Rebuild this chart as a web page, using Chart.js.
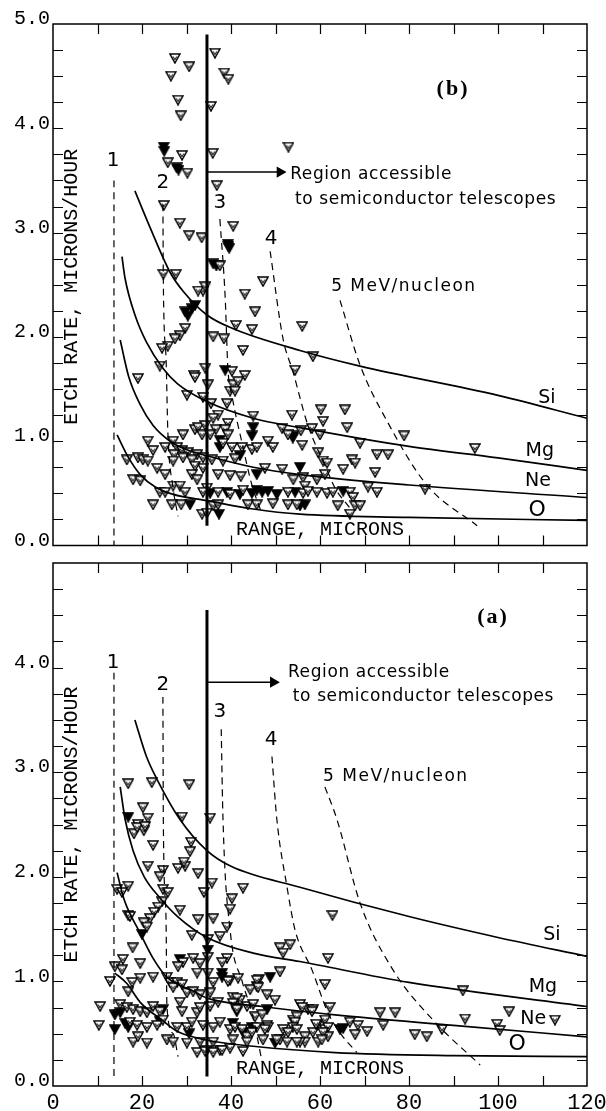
<!DOCTYPE html>
<html>
<head>
<meta charset="utf-8">
<script src="https://cdn.jsdelivr.net/npm/chart.js@4.4.1/dist/chart.umd.min.js"></script>
<style>
html, body { margin: 0; padding: 0; background: #fff; }
#wrap { position: relative; width: 606px; height: 1111px; }
canvas { position: absolute; left: 0; }
#chartB { top: 0; }
#chartA { top: 552px; }
</style>
</head>
<body>
<div id="wrap">
  <canvas id="chartB" width="606" height="552"></canvas>
  <canvas id="chartA" width="606" height="559"></canvas>
</div>
<script>
// Sumbu
const xTickValues = [0, 20, 40, 60, 80, 100, 120];
const yTickValues = [0, 1, 2, 3, 4, 5];

// ---- Panel (b), atas: [range, etch rate] ----
const bOpen = [
  [27.4,4.67],[30.6,4.59],[26.5,4.50],[36.4,4.72],[38.5,4.53],[39.4,4.47],[28.1,4.27],[28.7,4.12],[35.5,4.21],
  [29.0,3.74],[35.9,3.76],[52.9,3.82],[25.8,3.67],[30.2,3.57],[36.8,3.45],[24.9,3.26],[28.5,3.09],[40.5,3.06],
  [30.6,2.97],[33.4,2.95],[37.5,2.68],[24.8,2.60],[27.6,2.60],[47.2,2.53],[43.1,2.41],[33.7,2.44],[32.6,2.44],
  [34.2,2.48],[45.4,2.24],[56.0,2.10],[41.1,2.11],[44.7,2.07],[29.7,2.08],[28.5,2.01],[27.4,1.98],[36.0,2.00],
  [38.4,1.98],[25.8,1.91],[24.5,1.89],[42.7,1.87],[58.4,1.81],[24.0,1.72],[34.2,1.70],[31.7,1.63],[40.2,1.67],
  [54.4,1.68],[43.1,1.63],[19.1,1.60],[31.9,1.61],[34.8,1.54],[40.5,1.54],[41.6,1.57],[39.8,1.48],[40.9,1.48],
  [30.1,1.44],[33.7,1.42],[35.5,1.36],[39.1,1.36],[60.2,1.30],[65.6,1.30],[37.1,1.25],[36.0,1.22],[39.3,1.17],
  [45.0,1.24],[53.7,1.25],[60.7,1.19],[31.9,1.11],[32.6,1.13],[34.2,1.15],[36.6,1.11],[38.7,1.11],[51.5,1.12],
  [55.7,1.10],[58.2,1.12],[66.1,1.13],[60.0,1.06],[29.2,1.06],[33.5,1.06],[35.3,1.06],[39.3,1.06],[52.8,1.06],
  [78.9,1.05],[38.2,0.98],[21.3,1.00],[27.0,1.00],[69.0,0.98],[25.2,0.94],[27.9,0.94],[40.2,0.94],[42.5,0.94],
  [44.7,0.92],[45.8,0.94],[48.3,1.00],[49.4,0.94],[56.0,0.96],[94.8,0.93],[22.5,0.91],[29.0,0.91],[30.3,0.89],
  [32.4,0.87],[27.2,0.87],[40.9,0.83],[59.6,0.89],[72.8,0.87],[75.3,0.87],[16.6,0.82],[19.1,0.84],[20.2,0.82],
  [21.3,0.81],[27.0,0.81],[29.2,0.84],[31.2,0.82],[33.7,0.84],[35.7,0.82],[38.2,0.81],[60.7,0.81],[61.6,0.79],
  [67.2,0.82],[67.9,0.79],[23.4,0.74],[31.9,0.76],[33.7,0.74],[47.6,0.74],[51.5,0.73],[65.2,0.73],[72.4,0.70],
  [25.2,0.68],[31.2,0.68],[37.1,0.68],[39.8,0.67],[42.2,0.66],[54.0,0.63],[56.2,0.65],[59.3,0.63],[61.1,0.68],
  [18.0,0.63],[19.6,0.62],[32.4,0.63],[27.0,0.57],[28.5,0.57],[56.6,0.57],[70.8,0.56],[72.8,0.51],[83.6,0.54],
  [24.0,0.51],[25.2,0.51],[29.7,0.51],[66.7,0.51],[67.4,0.46],[34.6,0.55],
  [33.7,0.51],[37.1,0.51],[39.8,0.49],[42.7,0.53],[52.8,0.51],[56.2,0.50],[57.3,0.52],[59.3,0.51],[61.6,0.50],[62.9,0.51],
  [22.5,0.39],[26.7,0.39],[28.8,0.39],[36.0,0.38],[37.1,0.39],[43.8,0.39],[45.8,0.39],[49.4,0.40],[52.8,0.39],[54.8,0.39],
  [64.0,0.38],[67.9,0.38],[69.0,0.38],[33.5,0.30],[34.6,0.31],[66.7,0.30]
];
const bFilled = [
  [24.9,3.82],[25.0,3.78],[27.8,3.62],[28.2,3.60],[39.4,2.87],[39.6,2.85],[39.3,2.89],[36.0,2.70],[36.7,2.68],
  [31.9,2.30],[29.7,2.24],[30.3,2.20],[31.2,2.27],[38.7,1.68],[45.0,1.13],[54.0,1.05],[44.7,1.05],[53.9,1.03],
  [37.5,1.01],[37.5,0.94],[42.0,0.86],[55.5,0.75],[45.8,0.68],[35.3,0.50],[39.1,0.51],[42.0,0.49],[44.7,0.50],
  [45.8,0.53],[47.0,0.51],[48.3,0.52],[50.3,0.49],[54.4,0.51],[30.8,0.39],[56.6,0.39],[55.5,0.38],[37.3,0.30],[65.2,0.52]
];
// kurva unsur
const bSi = [[18.4,3.40],[21.8,3.05],[26.3,2.62],[29.2,2.44],[34.6,2.21],[40.4,2.08],[55.5,1.87],[69,1.72],[100,1.44],[120,1.22]];
const bMg = [[15.5,2.77],[16.2,2.56],[18.5,2.20],[21,1.95],[24.7,1.70],[28,1.55],[34.6,1.38],[45,1.22],[55.5,1.13],[80,0.95],[100,0.84],[120,0.72]];
const bNe = [[15.1,1.97],[17,1.62],[19.6,1.35],[22.5,1.15],[26.3,1.00],[30,0.92],[34.6,0.86],[45,0.75],[55.5,0.68],[80,0.58],[120,0.46]];
const bO  = [[14.4,1.06],[17,0.84],[19.6,0.68],[23,0.56],[27,0.49],[34.6,0.43],[45,0.35],[55.5,0.30],[80,0.27],[120,0.24]];
// garis energi (putus-putus) 1,2,3,4,5 MeV/nukleon
const bE1 = [[13.7,3.50],[13.7,0.0]];
const bE2 = [[24.7,3.27],[24.8,2.5],[25.4,1.8],[25.8,1.1],[27.0,0.55],[28.1,0.28]];
const bE3 = [[37.5,3.13],[38.7,2.37],[39.3,1.70],[40.2,1.44],[42.5,0.98],[44.7,0.58],[47.0,0.30]];
const bE4 = [[48.8,2.82],[51.7,1.98],[53.9,1.67],[57.3,1.15],[61.1,0.77],[63.4,0.55],[66.7,0.36]];
const bE5 = [[64.5,2.35],[69.0,1.73],[75.1,1.19],[84.0,0.58],[95.3,0.19]];
const bCut = [[34.6,0.19],[34.6,4.90]];
const bArrow = [[34.6,3.58],[51.0,3.58]];

// ---- Panel (a), bawah ----
const aOpen = [
  [16.9,2.89],[22.2,2.90],[30.6,2.88],[20.2,2.66],[21.3,2.56],[19.1,2.50],[29.0,2.57],[35.3,2.56],[20.4,2.44],
  [18.2,2.41],[18.9,2.47],[20.7,2.48],[22.5,2.30],[31.0,2.33],[30.8,2.24],[21.3,2.10],[24.7,2.06],[28.1,2.08],
  [29.7,2.10],[29.4,2.14],[32.6,2.03],[24.0,2.00],[35.7,1.94],[42.7,1.89],[16.9,1.91],[14.4,1.88],[15.5,1.85],
  [24.7,1.88],[25.8,1.85],[33.9,1.85],[40.2,1.79],[24.5,1.76],[23.6,1.71],[39.8,1.69],[28.5,1.68],[16.9,1.63],
  [22.7,1.66],[21.8,1.60],[20.4,1.56],[21.1,1.52],[17.3,1.62],[32.6,1.59],[36.0,1.60],[39.1,1.52],[62.8,1.63],
  [37.5,1.43],[31.2,1.44],[34.8,1.40],[17.9,1.32],[51.0,1.32],[51.7,1.27],[53.3,1.35],[29.2,1.18],[31.5,1.22],
  [39.1,1.22],[38.0,1.18],[61.8,1.22],[34.8,1.23],[19.6,1.17],[13.9,1.14],[15.7,1.21],[15.5,1.11],[28.1,1.14],[33.0,1.17],
  [32.4,1.08],[34.8,1.08],[22.5,1.04],[25.6,1.04],[26.3,0.99],[39.8,1.01],[41.6,1.03],[46.3,1.02],[45.8,0.95],
  [51.0,1.09],[61.1,0.97],[12.8,1.00],[17.8,0.99],[16.9,0.90],[19.6,1.03],[27.9,0.99],[29.0,0.97],[27.0,0.94],
  [36.0,0.99],[35.3,0.89],[48.1,0.87],[49.9,0.82],[30.1,0.89],[31.5,0.90],[33.0,0.87],[44.3,0.92],[40.4,0.85],
  [42.0,0.82],[41.3,0.84],[39.3,1.00],[45.8,1.01],[46.1,0.94],[92.1,0.91],
  [10.6,0.76],[10.3,0.58],[15.1,0.78],[16.6,0.75],[18.0,0.73],[19.6,0.71],[21.1,0.70],[22.5,0.76],[24.0,0.71],
  [28.5,0.80],[29.0,0.71],[32.4,0.70],[33.0,0.75],[35.3,0.76],[37.1,0.80],[40.4,0.79],[43.6,0.76],[45.0,0.78],
  [41.3,0.73],[45.4,0.66],[47.0,0.68],[55.5,0.78],[57.3,0.73],[58.4,0.73],[62.2,0.75],[56.0,0.75],[58.2,0.71],
  [73.5,0.70],[76.9,0.70],[92.6,0.64],[102.5,0.71],[112.8,0.63],[53.9,0.63],[54.8,0.66],[54.4,0.61],
  [17.3,0.61],[18.9,0.58],[21.1,0.56],[23.4,0.58],[24.7,0.63],[27.9,0.56],[30.1,0.56],[31.2,0.61],[33.7,0.58],
  [36.0,0.56],[37.5,0.61],[39.8,0.54],[40.9,0.56],[45.8,0.56],[48.1,0.58],[51.7,0.54],[53.9,0.56],[59.3,0.58],
  [61.1,0.63],[61.1,0.54],[61.8,0.56],[52.8,0.51],[54.8,0.54],[56.6,0.47],[58.4,0.51],[59.6,0.42],[61.8,0.47],
  [51.0,0.44],[48.3,0.56],[47.6,0.54],[42.5,0.54],[43.6,0.47],[44.7,0.51],[59.1,0.59],[60.7,0.51],[60.4,0.44],
  [66.7,0.61],[68.5,0.58],[67.9,0.49],[70.6,0.52],[74.2,0.58],[81.3,0.49],[84.0,0.47],[87.4,0.54],[99.8,0.59],
  [100.4,0.53],[56.6,0.42],[55.5,0.42],
  [18.0,0.42],[21.1,0.41],[19.1,0.47],[25.6,0.44],[27.0,0.42],[30.1,0.41],[33.0,0.42],[36.0,0.42],[34.6,0.34],
  [32.4,0.32],[40.4,0.44],[43.6,0.42],[47.2,0.44],[50.3,0.44],[52.6,0.42],[54.8,0.42],[37.5,0.34],[39.8,0.36],
  [42.7,0.33],[34.2,0.33],[36.0,0.32],[38.0,0.34]
];
const aFilled = [
  [16.9,2.57],[20.0,1.45],[34.8,1.30],[28.5,1.21],[48.8,1.04],[38.0,1.08],[38.0,1.04],[13.9,0.54],[15.1,0.70],
  [24.7,0.73],[41.3,0.71],[48.1,0.73],[42.7,0.51],[16.2,0.60],[49.9,0.41],[64.5,0.54],[65.2,0.55],[13.9,0.68],
  [16.9,0.56],[44.7,0.56],[24.0,0.62],[30.6,0.50],[40.4,0.60]
];
const aSi = [[18.4,3.50],[21,3.15],[23.4,2.93],[28.5,2.55],[34.6,2.25],[40,2.10],[55.5,1.90],[80,1.62],[100,1.42],[120,1.24]];
const aMg = [[15.1,2.86],[16.2,2.55],[18,2.25],[20.5,2.00],[24,1.80],[28,1.62],[34.6,1.42],[45,1.27],[55.5,1.19],[80,0.99],[120,0.76]];
const aNe = [[14.4,2.04],[16,1.78],[19.6,1.46],[22.5,1.22],[25.6,1.04],[31.9,0.90],[34.6,0.84],[47,0.76],[63.4,0.68],[90,0.58],[120,0.47]];
const aO  = [[13.9,1.08],[16.6,0.98],[19.6,0.80],[24.5,0.63],[28,0.52],[34.4,0.44],[45,0.38],[63.4,0.32],[90,0.29],[120,0.28]];
const aE1 = [[13.7,3.95],[13.7,0.05]];
const aE2 = [[24.7,3.72],[24.8,2.5],[25.4,1.6],[25.6,0.76],[27.0,0.50],[28.1,0.28]];
const aE3 = [[37.8,3.41],[38.2,2.55],[39.8,1.49],[42.5,1.00],[44.7,0.70],[47.0,0.23]];
const aE4 = [[49.2,3.15],[50.3,2.55],[52.6,1.90],[54.4,1.49],[58.2,1.11],[61.8,0.70],[65,0.48],[68.3,0.32]];
const aE5 = [[61.1,2.86],[63.8,2.55],[69.0,1.75],[76.4,1.11],[85.4,0.63],[96.0,0.20]];
const aCut = [[34.6,0.09],[34.6,4.55]];
const aArrow = [[34.6,3.86],[49.5,3.86]];

// Teks keterangan
const sans = 'DejaVu Sans';
const mono = 'Liberation Mono';
const serif = 'bold 22px "Liberation Serif"';
const bNotes = [
  { t: '(b)', x: 89.9, y: 4.37, f: serif, a: 'center', ls: 2 },
  { t: 'Region accessible', x: 53.3, y: 3.56, f: '17px ' + sans, a: 'left', ls: 0.6 },
  { t: 'to semiconductor telescopes', x: 54.4, y: 3.32, f: '17px ' + sans, a: 'left', ls: 0.6 },
  { t: '1', x: 13.5, y: 3.69, f: '20px ' + sans, a: 'center' },
  { t: '2', x: 24.7, y: 3.48, f: '20px ' + sans, a: 'center' },
  { t: '3', x: 37.5, y: 3.29, f: '20px ' + sans, a: 'center' },
  { t: '4', x: 49.0, y: 2.94, f: '20px ' + sans, a: 'center' },
  { t: '5 MeV/nucleon', x: 62.5, y: 2.48, f: '17px ' + sans, a: 'left', ls: 1.5 },
  { t: 'Si', x: 111.0, y: 1.41, f: '19px ' + sans, a: 'center' },
  { t: 'Mg', x: 109.4, y: 0.91, f: '19px ' + sans, a: 'center' },
  { t: 'Ne', x: 109.0, y: 0.62, f: '19px ' + sans, a: 'center' },
  { t: 'O', x: 108.8, y: 0.34, f: '22px ' + sans, a: 'center' },
  { t: 'ETCH RATE, MICRONS/HOUR', x: 4.3, y: 2.48, f: '20px ' + mono, a: 'center', rot: true },
  { t: 'RANGE, MICRONS', x: 41.1, y: 0.15, f: '20px ' + mono, a: 'left' }
];
const aNotes = [
  { t: '(a)', x: 98.9, y: 4.48, f: serif, a: 'center', ls: 2 },
  { t: 'Region accessible', x: 52.8, y: 3.95, f: '17px ' + sans, a: 'left', ls: 0.6 },
  { t: 'to semiconductor telescopes', x: 53.9, y: 3.72, f: '17px ' + sans, a: 'left', ls: 0.6 },
  { t: '1', x: 13.5, y: 4.05, f: '20px ' + sans, a: 'center' },
  { t: '2', x: 24.7, y: 3.84, f: '20px ' + sans, a: 'center' },
  { t: '3', x: 37.5, y: 3.58, f: '20px ' + sans, a: 'center' },
  { t: '4', x: 49.0, y: 3.31, f: '20px ' + sans, a: 'center' },
  { t: '5 MeV/nucleon', x: 60.7, y: 2.96, f: '17px ' + sans, a: 'left', ls: 1.5 },
  { t: 'Si', x: 112.1, y: 1.44, f: '19px ' + sans, a: 'center' },
  { t: 'Mg', x: 110.1, y: 0.95, f: '19px ' + sans, a: 'center' },
  { t: 'Ne', x: 107.9, y: 0.64, f: '19px ' + sans, a: 'center' },
  { t: 'O', x: 104.3, y: 0.40, f: '22px ' + sans, a: 'center' },
  { t: 'ETCH RATE, MICRONS/HOUR', x: 4.3, y: 2.50, f: '20px ' + mono, a: 'center', rot: true },
  { t: 'RANGE, MICRONS', x: 41.1, y: 0.17, f: '20px ' + mono, a: 'left' }
];

// Penanda segitiga terbalik
function makeMarker(filled) {
  const c = document.createElement('canvas');
  c.width = 12; c.height = 11;
  const g = c.getContext('2d');
  g.beginPath(); g.moveTo(1, 1); g.lineTo(11, 1); g.lineTo(6, 10); g.closePath();
  g.fillStyle = filled ? '#000' : '#fff'; g.fill();
  g.lineWidth = 1.5; g.strokeStyle = '#000'; g.stroke();
  if (!filled) {
    g.beginPath(); g.moveTo(4.2, 3.5); g.lineTo(6, 6.8); g.lineTo(7.8, 3.5);
    g.lineWidth = 1; g.stroke();
  }
  return c;
}
const openMark = makeMarker(false);
const fullMark = makeMarker(true);

const pts = arr => arr.map(p => ({ x: p[0], y: p[1] }));

function curve(arr, opts) {
  return Object.assign({
    data: pts(arr), showLine: true, pointRadius: 0, borderColor: '#000',
    borderWidth: 1.7, tension: 0.4, cubicInterpolationMode: 'monotone', fill: false
  }, opts || {});
}
function dashed(arr) {
  return curve(arr, { borderWidth: 1.2, borderDash: [7, 5] });
}

// Bingkai, tanda skala ke dalam, dan teks
const framePlugin = {
  id: 'frame',
  afterDraw(chart, args, opts) {
    const { ctx, chartArea: a, scales: { x, y } } = chart;
    ctx.save();
    ctx.strokeStyle = '#000';
    ctx.lineWidth = 1.5;
    ctx.strokeRect(a.left, a.top, a.right - a.left, a.bottom - a.top);
    ctx.lineWidth = 1.2;
    ctx.beginPath();
    for (let v = 0.25; v < 5; v += 0.25) {
      const py = Math.round(y.getPixelForValue(v)) + 0.5;
      ctx.moveTo(a.left, py); ctx.lineTo(a.left + 10, py);
      ctx.moveTo(a.right, py); ctx.lineTo(a.right - 10, py);
    }
    for (let v = 10; v < 120; v += 10) {
      const px = Math.round(x.getPixelForValue(v)) + 0.5;
      ctx.moveTo(px, a.top); ctx.lineTo(px, a.top + 10);
      ctx.moveTo(px, a.bottom); ctx.lineTo(px, a.bottom - 10);
    }
    ctx.stroke();
    ctx.fillStyle = '#000';
    ctx.textBaseline = 'middle';
    (opts.notes || []).forEach(n => {
      ctx.font = n.f;
      ctx.textAlign = n.a;
      ctx.letterSpacing = (n.ls || 0) + 'px';
      const px = x.getPixelForValue(n.x), py = y.getPixelForValue(n.y);
      if (n.rot) {
        ctx.save(); ctx.translate(px, py); ctx.rotate(-Math.PI / 2);
        ctx.fillText(n.t, 0, 0); ctx.restore();
      } else {
        ctx.fillText(n.t, px, py);
      }
    });
    ctx.letterSpacing = '0px';
    ctx.restore();
  }
};

function makeChart(id, p) {
  const ctx = document.getElementById(id).getContext('2d');
  return new Chart(ctx, {
    type: 'scatter',
    data: {
      datasets: [
        curve(p.si), curve(p.mg), curve(p.ne), curve(p.o),
        dashed(p.e1), dashed(p.e2), dashed(p.e3), dashed(p.e4), dashed(p.e5),
        curve(p.cut, { borderWidth: 3, tension: 0, cubicInterpolationMode: 'default' }),
        curve(p.arrow, {
          borderWidth: 1.5, tension: 0, cubicInterpolationMode: 'default',
          pointStyle: 'triangle', pointRotation: 90, pointRadius: [0, 5],
          pointBackgroundColor: '#000', pointBorderColor: '#000'
        }),
        { data: pts(p.open), pointStyle: openMark, pointRadius: 5 },
        { data: pts(p.filled), pointStyle: fullMark, pointRadius: 5 }
      ]
    },
    options: {
      responsive: false,
      animation: false,
      layout: { padding: { top: p.padTop, right: 19, left: 0, bottom: p.padBottom } },
      plugins: { legend: { display: false }, tooltip: { enabled: false }, frame: { notes: p.notes } },
      scales: {
        x: {
          type: 'linear', min: 0, max: 120,
          display: p.showX,
          grid: { display: false, drawTicks: false }, border: { display: false },
          ticks: {
            stepSize: 20, maxRotation: 0, color: '#000', padding: 4,
            font: { family: mono, size: 22 },
            callback: v => xTickValues.includes(v) ? String(v) : ''
          },
          afterFit: s => { s.height = p.showX ? 25 : 0; s.paddingLeft = 0; s.paddingRight = 0; }
        },
        y: {
          type: 'linear', min: 0, max: 5,
          grid: { display: false, drawTicks: false }, border: { display: false },
          ticks: {
            stepSize: 0.25, autoSkip: false, color: '#000', padding: 3, labelOffset: -5,
            font: { family: mono, size: 20 },
            callback: v => (yTickValues.includes(v) && !(p.hideTop && v === 5)) ? v.toFixed(1) : ''
          },
          afterFit: s => { s.width = 53; s.paddingTop = 0; s.paddingBottom = 0; }
        }
      }
    },
    plugins: [framePlugin]
  });
}

makeChart('chartB', {
  si: bSi, mg: bMg, ne: bNe, o: bO, e1: bE1, e2: bE2, e3: bE3, e4: bE4, e5: bE5,
  cut: bCut, arrow: bArrow, open: bOpen, filled: bFilled, notes: bNotes,
  padTop: 24, padBottom: 4, showX: false, hideTop: false
});
makeChart('chartA', {
  si: aSi, mg: aMg, ne: aNe, o: aO, e1: aE1, e2: aE2, e3: aE3, e4: aE4, e5: aE5,
  cut: aCut, arrow: aArrow, open: aOpen, filled: aFilled, notes: aNotes,
  padTop: 11, padBottom: 0, showX: true, hideTop: true
});
</script>
</body>
</html>
